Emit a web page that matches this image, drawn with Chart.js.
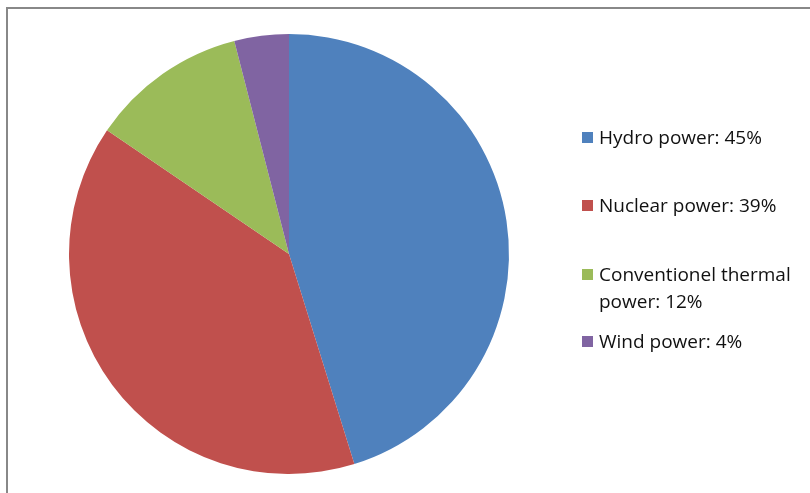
<!DOCTYPE html>
<html>
<head>
<meta charset="utf-8">
<script src="https://cdn.jsdelivr.net/npm/chart.js@4/dist/chart.umd.min.js"></script>
<style>
  html, body { margin: 0; padding: 0; background: #fff; overflow: hidden; }
  #wrap { position: relative; width: 810px; height: 493px; }
  #frame { position: absolute; left: 6px; top: 7px; width: 900px; height: 600px; border: 2px solid #888; }
  #chart-area { position: absolute; left: 0; top: 0; }
  #legend { position: absolute; left: 582px; top: 0; font-family: "Open Sans", sans-serif; font-size: 19px; color: #111; }
  #legend .item { position: absolute; left: 0; width: 230px; line-height: 27px; }
  #legend .box { position: absolute; left: 0; top: 8px; width: 11px; height: 11px; }
  #legend .txt { position: absolute; left: 17px; top: 0; width: 212px; white-space: normal; }
</style>
</head>
<body>
<div id="wrap">
  <div id="frame"></div>
  <canvas id="chart-area" width="810" height="493"></canvas>
  <div id="legend"></div>
</div>
<script>
var labels = ["Hydro power", "Nuclear power", "Conventionel thermal power", "Wind power"];
var shares = [45.2, 39.3, 11.5, 4.0];
var colors = ["#4F81BD", "#C0504D", "#9BBB59", "#8064A2"];
var legendTops = [124, 192, 261, 328];

var config = {type: 'pie',
    data: {
        labels: labels,
        datasets: [{data: shares,
            backgroundColor: colors,
            borderWidth: 0
        }]
    },
    options: {
        responsive: false,
        animation: false,
        layout: {padding: {left: 69, right: 301, top: 34, bottom: 19}},
        plugins: {legend: {display: false}, tooltip: {enabled: false}}
    }
};

window.onload = function() {
    var ctx = document.getElementById("chart-area").getContext("2d");
    window.myPie = new Chart(ctx, config);

    // legend like the office one, text wraps on the long label
    var total = 0;
    for (var k = 0; k < shares.length; k++) { total += shares[k]; }
    var legend = document.getElementById("legend");
    for (var i = 0; i < labels.length; i++) {
        var pct = Math.round(shares[i] / total * 100);
        var item = document.createElement("div");
        item.className = "item";
        item.style.top = legendTops[i] + "px";
        item.innerHTML = '<div class="box" style="background:' + colors[i] + '"></div>' +
            '<div class="txt">' + labels[i] + ': ' + pct + '%</div>';
        legend.appendChild(item);
    }
};
</script>
</body>
</html>
